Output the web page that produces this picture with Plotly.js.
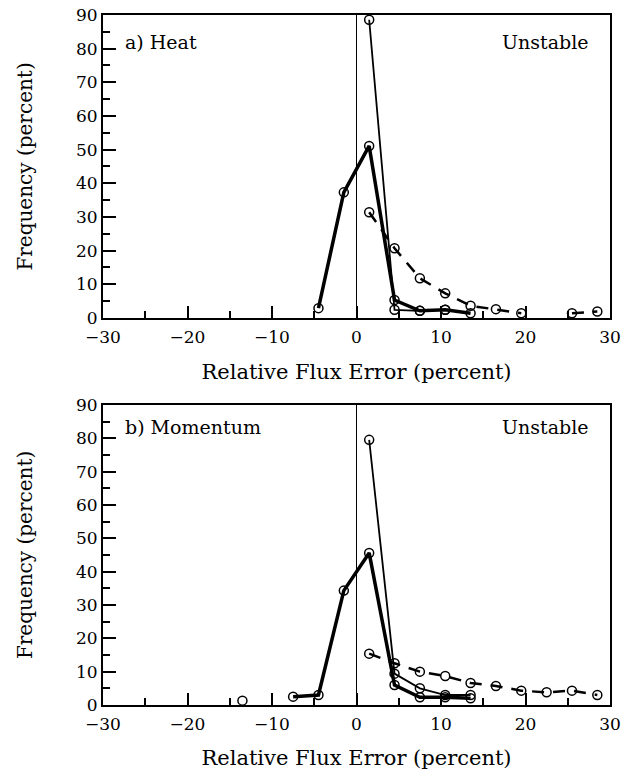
<!DOCTYPE html>
<html>
<head>
<meta charset="utf-8">
<script src="https://cdn.plot.ly/plotly-3.0.1.min.js"></script>
<style>html,body{margin:0;padding:0;background:#fff;}#chart{width:621px;height:770px;}</style>
</head>
<body>
<div id="chart"></div>
<script>
// ---- Data ----
// Panel a) Heat
var heatThinX  = [1.5, 4.5, 7.5, 10.5];
var heatThinY  = [88.6, 2.4, 2.1, 2.4];
var heatThickX = [-4.5, -1.5, 1.5, 4.5, 7.5, 10.5, 13.5];
var heatThickY = [2.9, 37.3, 51.1, 5.3, 2.1, 2.4, 1.4];
var heatDashX  = [1.5, 4.5, 7.5, 10.5, 13.5, 16.5, 19.5, 22.5, 25.5, 28.5];
var heatDashY  = [31.4, 20.7, 11.8, 7.3, 3.6, 2.6, 1.4, null, 1.4, 1.9];
// Panel b) Momentum
var momThinX  = [1.5, 4.5, 7.5, 10.5, 13.5];
var momThinY  = [79.5, 9.4, 5.0, 3.0, 3.0];
var momThickX = [-13.5, -10.5, -7.5, -4.5, -1.5, 1.5, 4.5, 7.5, 10.5, 13.5];
var momThickY = [1.3, null, 2.5, 3.0, 34.3, 45.6, 6.0, 2.3, 2.3, 2.0];
var momDashX  = [1.5, 4.5, 7.5, 10.5, 13.5, 16.5, 19.5, 22.5, 25.5, 28.5];
var momDashY  = [15.4, 12.5, 10.0, 8.7, 6.6, 5.7, 4.3, 3.8, 4.3, 3.0];

var panelLabels = ["a) Heat", "b) Momentum"];
var stabilityLabel = "Unstable";
var xTitle = "Relative Flux Error (percent)";
var yTitle = "Frequency (percent)";

var FONT = "DejaVu Serif, Liberation Serif, serif";
var mk = {symbol: "circle-open", size: 9, color: "#000", line: {width: 1.5, color: "#000"}};

function tr(x, y, w, dash, xa, ya) {
  return {x: x, y: y, type: "scatter", mode: "lines+markers", xaxis: xa, yaxis: ya,
    line: {color: "#000", width: w, dash: dash}, marker: mk, connectgaps: false,
    hoverinfo: "skip", showlegend: false, cliponaxis: false};
}

var data = [
  tr(heatDashX, heatDashY, 2.5, "12px,9px", "x", "y"),
  tr(heatThickX, heatThickY, 3.5, "solid", "x", "y"),
  tr(heatThinX, heatThinY, 1.8, "solid", "x", "y"),
  tr(momDashX, momDashY, 2.5, "12px,9px", "x2", "y2"),
  tr(momThickX, momThickY, 3.5, "solid", "x2", "y2"),
  tr(momThinX, momThinY, 1.8, "solid", "x2", "y2")
];

function xax(anchor) {
  return {anchor: anchor, range: [-30, 30], dtick: 10, tick0: -30, ticks: "inside", ticklen: 12,
    tickwidth: 2, tickcolor: "#000", showline: true, linewidth: 2, linecolor: "#000", mirror: true,
    showgrid: false, zeroline: false, tickfont: {family: FONT, size: 17, color: "#000"},
    ticklabelstandoff: 3,
    minor: {dtick: 5, ticks: "inside", ticklen: 7, tickwidth: 2, tickcolor: "#000", showgrid: false},
    title: {text: xTitle, font: {family: FONT, size: 21, color: "#000"}, standoff: 18},
    fixedrange: true};
}
function yax(anchor, dom) {
  return {anchor: anchor, domain: dom, range: [0, 90], dtick: 10, ticks: "inside", ticklen: 13,
    tickwidth: 2, tickcolor: "#000", showline: true, linewidth: 2, linecolor: "#000", mirror: true,
    showgrid: false, zeroline: false, tickfont: {family: FONT, size: 17, color: "#000"},
    minor: {dtick: 5, ticks: "inside", ticklen: 7, tickwidth: 2, tickcolor: "#000", showgrid: false},
    title: {text: yTitle, font: {family: FONT, size: 20, color: "#000"}, standoff: 38},
    fixedrange: true};
}

var layout = {
  width: 621, height: 770,
  margin: {l: 103, r: 11, t: 15, b: 65},
  paper_bgcolor: "#fff", plot_bgcolor: "#fff",
  xaxis: Object.assign(xax("y"), {domain: [0, 1]}),
  yaxis: yax("x", [0.561, 1]),
  xaxis2: Object.assign(xax("y2"), {domain: [0, 1]}),
  yaxis2: yax("x2", [0, 0.435]),
  shapes: [
    {type: "line", xref: "x", yref: "y domain", x0: 0, x1: 0, y0: 0, y1: 1, line: {color: "#000", width: 1}},
    {type: "line", xref: "x2", yref: "y2 domain", x0: 0, x1: 0, y0: 0, y1: 1, line: {color: "#000", width: 1}}
  ],
  annotations: [
    {xref: "x domain", yref: "y domain", x: 0.04, y: 0.91, xanchor: "left", yanchor: "middle",
     text: panelLabels[0], showarrow: false, font: {family: FONT, size: 19, color: "#000"}},
    {xref: "x domain", yref: "y domain", x: 0.96, y: 0.91, xanchor: "right", yanchor: "middle",
     text: stabilityLabel, showarrow: false, font: {family: FONT, size: 19, color: "#000"}},
    {xref: "x2 domain", yref: "y2 domain", x: 0.04, y: 0.925, xanchor: "left", yanchor: "middle",
     text: panelLabels[1], showarrow: false, font: {family: FONT, size: 19, color: "#000"}},
    {xref: "x2 domain", yref: "y2 domain", x: 0.96, y: 0.925, xanchor: "right", yanchor: "middle",
     text: stabilityLabel, showarrow: false, font: {family: FONT, size: 19, color: "#000"}}
  ]
};

Plotly.newPlot("chart", data, layout, {displayModeBar: false, staticPlot: true});
</script>
</body>
</html>
